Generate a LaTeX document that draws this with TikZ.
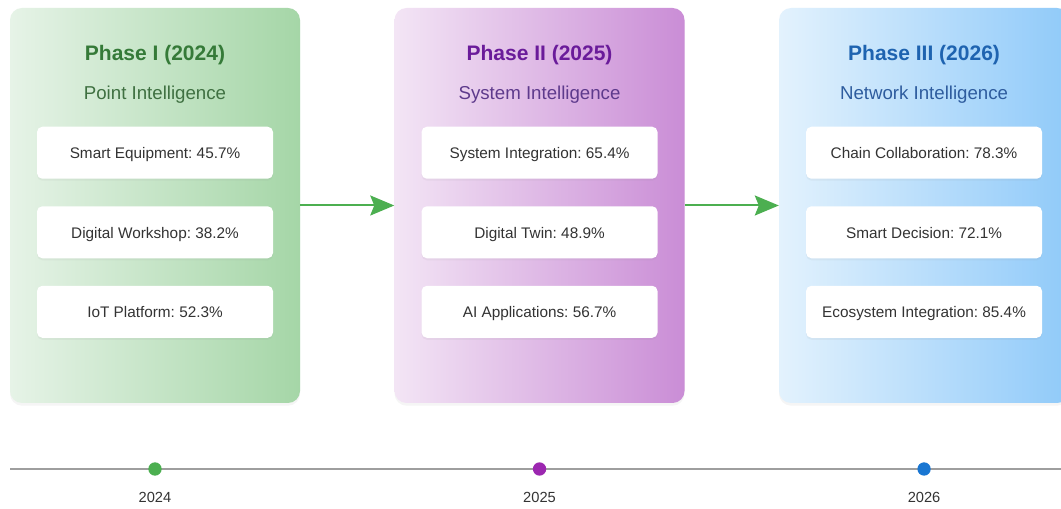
\documentclass[tikz,border=0pt]{standalone}
\usepackage{fontspec}
\setmainfont{Liberation Sans}
\frenchspacing
\usetikzlibrary{arrows.meta,positioning,shadows}
\definecolor{leafpale}{HTML}{E6F3E7}
\definecolor{leaf}{HTML}{A5D6A7}
\definecolor{leafdark}{HTML}{357A38}
\definecolor{leafsub}{HTML}{3F7041}
\definecolor{grapepale}{HTML}{F3E5F5}
\definecolor{grape}{HTML}{CA8DD6}
\definecolor{grapedark}{HTML}{6A1B9A}
\definecolor{grapesub}{HTML}{5E3A8C}
\definecolor{skypale}{HTML}{E3F2FD}
\definecolor{sky}{HTML}{90CAF9}
\definecolor{skydark}{HTML}{1E63B0}
\definecolor{skysub}{HTML}{2E5C9E}
\definecolor{arrowgreen}{HTML}{4CAF50}
\definecolor{dotpurple}{HTML}{9C27B0}
\definecolor{dotblue}{HTML}{1976D2}
\definecolor{railgray}{HTML}{9E9E9E}
\definecolor{ink}{HTML}{333333}
\tikzset{panel/.style={rounded corners=9pt,minimum width=217.5pt,minimum height=296.25pt,inner sep=0pt,drop shadow={shadow xshift=0pt,shadow yshift=-2pt,opacity=.08}},phase/.style={font=\bfseries\fontsize{15.75}{18}\selectfont},stage/.style={font=\fontsize{14}{16}\selectfont},item/.style={fill=white,rounded corners=4pt,minimum width=177pt,minimum height=39pt,inner sep=0pt,text height=10.5pt,text depth=1.5pt,text=ink,font=\fontsize{11.5}{14}\selectfont,drop shadow={shadow xshift=0pt,shadow yshift=-1.5pt,opacity=.08}},flow/.style={-{Stealth[length=18pt,width=15pt,inset=3pt]},line width=1.5pt,draw=arrowgreen},rail/.style={line width=1.5pt,draw=railgray},dot/.style={circle,inner sep=0pt,minimum size=10pt},year/.style={font=\fontsize{11}{13}\selectfont,text=ink}}

\begin{document}
\begin{tikzpicture}[x=0.75pt,y=-0.75pt]
\useasboundingbox[fill=white] (0,0) rectangle (1061,509);
% the three phase cards
\node[panel,left color=leafpale,right color=leaf] (p1) at (155,205.5) {};
\node[panel,left color=grapepale,right color=grape,right=70.5pt of p1] (p2) {};
\node[panel,left color=skypale,right color=sky,right=70.5pt of p2] (p3) {};
\draw[flow] (p1)--(p2);\draw[flow] (p2)--(p3);
% phase I
\node[phase,text=leafdark] (h1) at ([yshift=-35.5pt]p1.north) {Phase I (2024)};
\node[stage,text=leafsub] (s1) at ([yshift=-65.5pt]p1.north) {Point Intelligence};
\node[item] (a1) at ([yshift=-108.75pt]p1.north) {Smart Equipment: 45.7\%};
\node[item,below=20.25pt of a1] (a2) {Digital Workshop: 38.2\%};
\node[item,below=20.25pt of a2] (a3) {IoT Platform: 52.3\%};
% phase II
\node[phase,text=grapedark] (h2) at ([yshift=-35.5pt]p2.north) {Phase II (2025)};
\node[stage,text=grapesub] (s2) at ([yshift=-65.5pt]p2.north) {System Intelligence};
\node[item] (b1) at ([yshift=-108.75pt]p2.north) {System Integration: 65.4\%};
\node[item,below=20.25pt of b1] (b2) {Digital Twin: 48.9\%};
\node[item,below=20.25pt of b2] (b3) {AI Applications: 56.7\%};
% phase III
\node[phase,text=skydark] (h3) at ([yshift=-35.5pt]p3.north) {Phase III (2026)};
\node[stage,text=skysub] (s3) at ([yshift=-65.5pt]p3.north) {Network Intelligence};
\node[item] (c1) at ([yshift=-108.75pt]p3.north) {Chain Collaboration: 78.3\%};
\node[item,below=20.25pt of c1] (c2) {Smart Decision: 72.1\%};
\node[item,below=20.25pt of c2] (c3) {Ecosystem Integration: 85.4\%};
% timeline
\coordinate (t0) at (10,469);\coordinate (t1) at (1070,469);
\draw[rail] (t0)--(t1);
\node[dot,fill=arrowgreen] (d1) at (p1 |- t0) {};
\node[dot,fill=dotpurple] (d2) at (p2 |- t0) {};
\node[dot,fill=dotblue] (d3) at (p3 |- t0) {};
\node[year] at ([yshift=-21pt]d1) {2024};
\node[year] at ([yshift=-21pt]d2) {2025};
\node[year] at ([yshift=-21pt]d3) {2026};
\end{tikzpicture}
\end{document}
